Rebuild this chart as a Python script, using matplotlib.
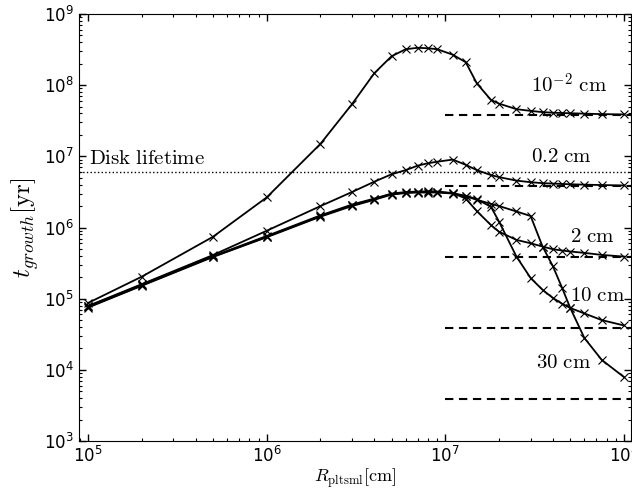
import matplotlib
matplotlib.use('Agg')
import matplotlib.pyplot as plt
import numpy as np

plt.rcParams['mathtext.fontset'] = 'cm'

# planetesimal radius grid [cm]
R = [1e5, 2e5, 5e5, 1e6, 2e6, 3e6, 4e6, 5e6, 6e6, 7e6, 8e6, 9e6, 1.1e7, 1.3e7,
     1.5e7, 1.8e7, 2e7, 2.5e7, 3e7, 3.5e7, 4e7, 4.5e7, 5e7, 6e7, 7.5e7, 1e8]

# growth timescale [yr] for each pebble size
t_001 = [8.7e4, 2.04e5, 7.4e5, 2.65e6, 1.5e7, 5.4e7, 1.47e8, 2.55e8, 3.2e8, 3.35e8,
         3.3e8, 3.2e8, 2.68e8, 2.1e8, 1.06e8, 6.2e7, 5.5e7, 4.6e7, 4.35e7, 4.18e7,
         4.1e7, 4.06e7, 4.03e7, 3.98e7, 3.92e7, 3.88e7]
t_02 = [7.9e4, 1.6e5, 4.1e5, 9.0e5, 2.0e6, 3.15e6, 4.4e6, 5.6e6, 6.4e6, 7.4e6,
        8.0e6, 8.4e6, 9.0e6, 7.6e6, 6.4e6, 5.45e6, 5.1e6, 4.56e6, 4.33e6, 4.2e6,
        4.14e6, 4.09e6, 4.05e6, 4.0e6, 3.95e6, 3.9e6]
t_2 = [7.8e4, 1.57e5, 3.95e5, 7.6e5, 1.48e6, 2.1e6, 2.55e6, 3.0e6, 3.15e6, 3.2e6,
       3.22e6, 3.2e6, 3.05e6, 2.55e6, 1.7e6, 1.08e6, 8.7e5, 6.7e5, 6.0e5, 5.4e5,
       4.95e5, 4.75e5, 4.6e5, 4.4e5, 4.12e5, 3.9e5]
t_10 = [7.6e4, 1.54e5, 3.9e5, 7.4e5, 1.45e6, 2.05e6, 2.5e6, 2.95e6, 3.1e6, 3.15e6,
        3.15e6, 3.15e6, 3.02e6, 2.8e6, 2.5e6, 1.95e6, 1.2e6, 3.9e5, 1.95e5, 1.33e5,
        1.02e5, 8.5e4, 7.4e4, 6.2e4, 5.0e4, 4.2e4]
t_30 = [7.5e4, 1.52e5, 3.85e5, 7.3e5, 1.42e6, 2.0e6, 2.45e6, 2.9e6, 3.05e6, 3.1e6,
        3.1e6, 3.1e6, 3.0e6, 2.75e6, 2.45e6, 2.15e6, 2.0e6, 1.68e6, 1.45e6, 5.4e5,
        2.85e5, 1.42e5, 7.4e4, 2.8e4, 1.38e4, 7.9e3]

# asymptotic values (dashed) and labels
t_inf = [3.85e7, 3.85e6, 3.85e5, 3.85e4, 3.85e3]
labels = [r'$10^{-2}\ \mathrm{cm}$', r'$0.2\ \mathrm{cm}$', r'$2\ \mathrm{cm}$',
          r'$10\ \mathrm{cm}$', r'$30\ \mathrm{cm}$']
label_pos = [(3.0e7, 1.0e8), (3.0e7, 1.0e7), (5.0e7, 7.6e5), (5.0e7, 1.13e5), (3.2e7, 1.27e4)]

disk_lifetime = 6e6

fig = plt.figure(figsize=(6.32, 4.91), dpi=100)
ax = fig.add_axes([79/632, 1 - 441/491, 552/632, 427/491])

for t in [t_001, t_02, t_2, t_10, t_30]:
    ax.plot(R, t, 'k-', lw=1.3, marker='x', ms=6, mew=0.8)

for ti in t_inf:
    ax.plot([1e7, 1e9], [ti, ti], 'k--', lw=1.5, dashes=(4, 2.7))

ax.axhline(disk_lifetime, color='k', ls=':', lw=1.0)
ax.text(1.01e5, disk_lifetime * 1.15, r'$\mathrm{Disk\ lifetime}$', fontsize=15,
        ha='left', va='bottom')

for lab, (x, y) in zip(labels, label_pos):
    ax.text(x, y, lab, fontsize=15, ha='left', va='center')

ax.set_xscale('log')
ax.set_yscale('log')
ax.set_xlim(8.9e4, 1.094e8)
ax.set_ylim(1e3, 1e9)

ax.tick_params(which='both', direction='in', top=True, right=True, labelsize=12)
ax.tick_params(which='major', length=5, width=1)
ax.tick_params(which='minor', length=2.5, width=0.8)

ax.set_xlabel(r'$R_{\rm pltsml}[\mathrm{cm}]$', fontsize=13, labelpad=0)
ax.set_ylabel(r'$t_{growth}[\mathrm{yr}]$', fontsize=18, labelpad=2)

fig.savefig('out.png', dpi=100)
